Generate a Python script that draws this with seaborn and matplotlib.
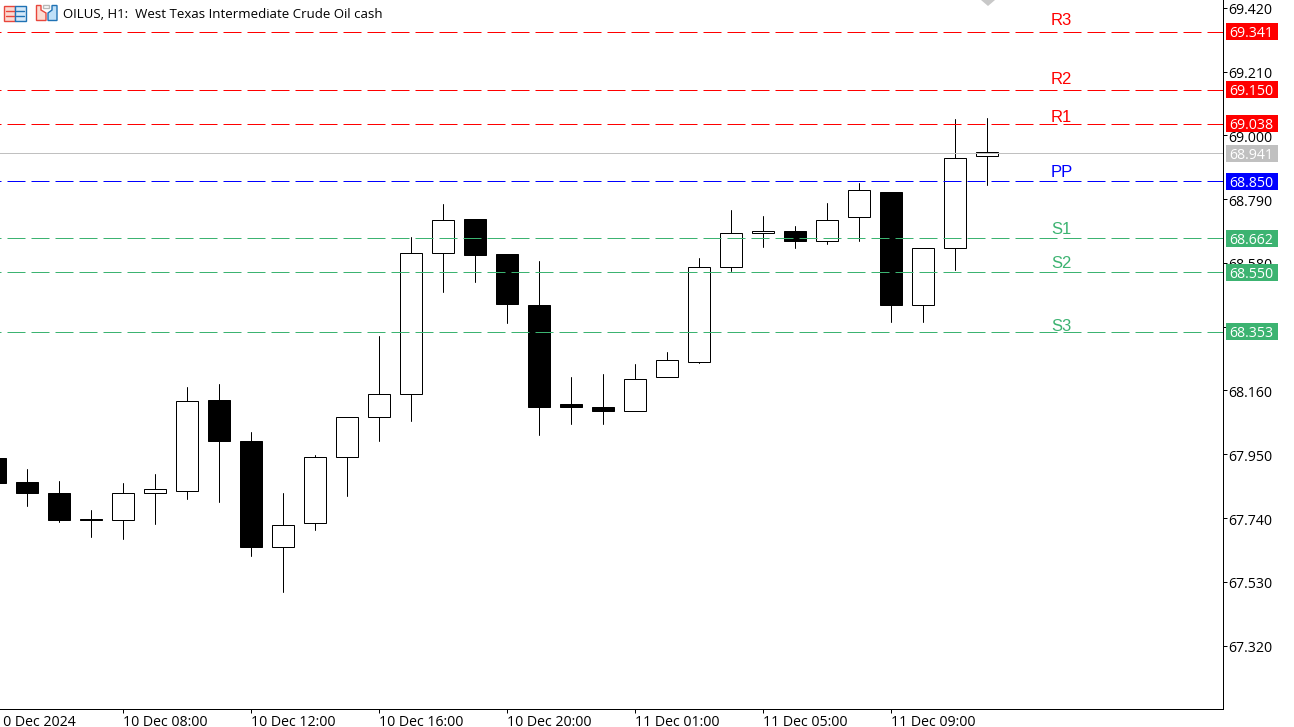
import matplotlib
matplotlib.use("Agg")
import matplotlib.pyplot as plt
import matplotlib.transforms as mtrans
from matplotlib.patches import Rectangle, Polygon
import numpy as np
import pandas as pd
import seaborn as sns

# Hourly OHLC quotes, oldest first
highs = [67.939, 67.903, 67.863, 67.765, 67.855, 67.886, 68.173, 68.180,
         68.022, 67.821, 67.949, 68.074, 68.338, 68.664, 68.773, 68.726,
         68.611, 68.588, 68.203, 68.213, 68.246, 68.288, 68.595, 68.756,
         68.736, 68.703, 68.776, 68.845, 68.815, 68.628, 69.053, 69.059]
lows = [67.855, 67.778, 67.728, 67.676, 67.672, 67.721, 67.801, 67.794,
        67.616, 67.495, 67.702, 67.814, 67.995, 68.058, 68.486, 68.516,
        68.381, 68.015, 68.051, 68.051, 68.094, 68.203, 68.249, 68.552,
        68.634, 68.628, 68.641, 68.654, 68.384, 68.384, 68.558, 68.838]
opens = [67.939, 67.860, 67.824, 67.738, 67.732, 67.824, 67.830, 68.130,
         67.995, 67.646, 67.725, 67.942, 68.074, 68.147, 68.614, 68.726,
         68.611, 68.443, 68.114, 68.104, 68.094, 68.203, 68.255, 68.568,
         68.680, 68.687, 68.651, 68.730, 68.815, 68.443, 68.628, 68.931]
closes = [67.855, 67.821, 67.735, 67.732, 67.824, 67.834, 68.127, 67.995,
          67.643, 67.718, 67.942, 68.074, 68.147, 68.614, 68.723, 68.605,
          68.446, 68.107, 68.104, 68.094, 68.199, 68.259, 68.568, 68.680,
          68.687, 68.651, 68.723, 68.819, 68.443, 68.628, 68.927, 68.944]

# Pivot levels
level_names = ["R3", "R2", "R1", "PP", "S1", "S2", "S3"]
level_values = [69.341, 69.150, 69.038, 68.850, 68.662, 68.550, 68.353]
level_colors = ["#FF0000", "#FF0000", "#FF0000", "#0000FF", "#3CB371", "#3CB371", "#3CB371"]
level_lifts = [4, 3, -1, 1, 1, 1, -2]
last_price = 68.941

price_ticks = [69.420, 69.210, 69.000, 68.790, 68.580, 68.370,
               68.160, 67.950, 67.740, 67.530, 67.320]
date_positions = [0, 4, 8, 12, 16, 20, 24, 28]
date_labels = ["10 Dec 2024", "10 Dec 08:00", "10 Dec 12:00", "10 Dec 16:00",
               "10 Dec 20:00", "11 Dec 01:00", "11 Dec 05:00", "11 Dec 09:00"]
title_text = "OILUS, H1:  West Texas Intermediate Crude Oil cash"

W, H = 1294, 727
PX_LEFT, PX_RIGHT, PX_BOTTOM = -37, 1223, 709
BAR_PX = 32
PX_PRICE = 0.003294
Y_TOP = 69.4463
UI_FONT = ["Open Sans", "DejaVu Sans"]

sns.set_style("white")
plt.rcParams["font.family"] = UI_FONT

fig = plt.figure(figsize=(W / 100, H / 100), dpi=100, facecolor="white")
ax = fig.add_axes([PX_LEFT / W, 1 - PX_BOTTOM / H, (PX_RIGHT - PX_LEFT) / W, PX_BOTTOM / H])

bars = np.arange(len(highs))
ax.set_xlim(-1, -1 + (PX_RIGHT - PX_LEFT) / BAR_PX)
ax.set_ylim(Y_TOP - PX_BOTTOM * PX_PRICE, Y_TOP)

# Wicks, one vertical segment per bar
wicks = pd.DataFrame({
    "bar": np.concatenate([bars, bars]),
    "price": highs + lows,
})
sns.lineplot(data=wicks, x="bar", y="price", units="bar", estimator=None,
             color="black", linewidth=0.72, ax=ax, zorder=2, legend=False)

# Candle bodies: hollow for rising bars, filled for falling bars
opens_arr, closes_arr = np.array(opens), np.array(closes)
rising = closes_arr >= opens_arr
ax.bar(bars, np.abs(closes_arr - opens_arr), bottom=np.minimum(opens_arr, closes_arr),
       width=22 / BAR_PX, color=np.where(rising, "white", "black").tolist(),
       edgecolor="black", linewidth=0.72, zorder=3)

# Dashed pivot lines with names and right-hand price tags
tag_tf = mtrans.blended_transform_factory(fig.transFigure, ax.transData)
for name, value, color, lift in zip(level_names, level_values, level_colors, level_lifts):
    ax.axhline(value, color=color, linewidth=0.72, linestyle=(16, (18, 6)), zorder=4)
    ax.annotate(name, xy=(1051 / W, value), xycoords=tag_tf, xytext=(0, lift * 0.72),
                textcoords="offset points", color=color, fontsize=12, va="bottom", ha="left",
                family=["Liberation Sans"], zorder=5)

tag_values = level_values + [last_price]
tag_colors = level_colors + ["#C0C0C0"]
ax.axhline(last_price, color="#C0C0C0", linewidth=0.72, zorder=4)
for value, color in zip(tag_values, tag_colors):
    ax.add_patch(Rectangle((1226 / W, value - 8.5 * PX_PRICE), 52 / W, 17 * PX_PRICE,
                           transform=tag_tf, facecolor=color, edgecolor="none",
                           clip_on=False, zorder=6))
    ax.text(1229 / W, value, f"{value:.3f}", transform=tag_tf, color="white",
            fontsize=10.2, va="center_baseline", ha="left", clip_on=False, zorder=7)

# Axes frame: price scale on the right, time scale below
for side in ("left", "top"):
    ax.spines[side].set_visible(False)
for side in ("right", "bottom"):
    ax.spines[side].set_color("black")
    ax.spines[side].set_linewidth(0.72)
ax.set_xlabel("")
ax.set_ylabel("")
ax.yaxis.tick_right()
ax.set_yticks(price_ticks, [f"{p:.3f}" for p in price_ticks])
ax.set_xticks(date_positions, date_labels, ha="left")
ax.tick_params(axis="both", length=3, width=0.72, color="black", labelsize=10.2,
               labelcolor="black", left=False, right=True, bottom=True)
ax.tick_params(axis="y", pad=1)
ax.tick_params(axis="x", pad=1)

# Price labels sit a pixel under their tick marks
nudge = mtrans.ScaledTranslation(0, -1 / 100, fig.dpi_scale_trans)
for label in ax.get_yticklabels():
    label.set_transform(label.get_transform() + nudge)

# Chart header: table icon, bottle icon, instrument description
overlay = fig.add_axes([0, 0, 1, 1], facecolor="none")
overlay.set_xlim(0, W)
overlay.set_ylim(H, 0)
overlay.axis("off")
overlay.add_patch(Rectangle((3.5, 5.5), 11.5, 15, fc="#FBDAD2", ec="#E8463C", lw=1))
overlay.add_patch(Rectangle((15, 5.5), 10.5, 15, fc="#D4E8F8", ec="#1F72B4", lw=1))
for row in (10.5, 15.5):
    overlay.plot([6, 14], [row, row], color="#E8463C", lw=1)
    overlay.plot([16, 24], [row, row], color="#1F72B4", lw=1)
overlay.add_patch(Polygon([(36.5, 5.5), (41, 5.5), (41, 10), (46, 13), (46, 20.5), (36.5, 20.5)],
                          fc="#FDDCD2", ec="#E8463C", lw=1))
overlay.add_patch(Polygon([(48, 13), (52, 10), (52, 5.5), (57, 5.5), (57, 20.5), (48, 20.5)],
                          fc="#BFE0F8", ec="#1F72B4", lw=1))
overlay.add_patch(Rectangle((43, 5), 6, 3, fc="white", ec="#B8B8B8", lw=1))
overlay.text(63, 15, title_text, fontsize=9.55, va="center", ha="left", color="black")
overlay.add_patch(Polygon([(981, 0), (995, 0), (988, 6)], fc="#C8C8C8", ec="none"))

fig.savefig("out.png", dpi=100)
